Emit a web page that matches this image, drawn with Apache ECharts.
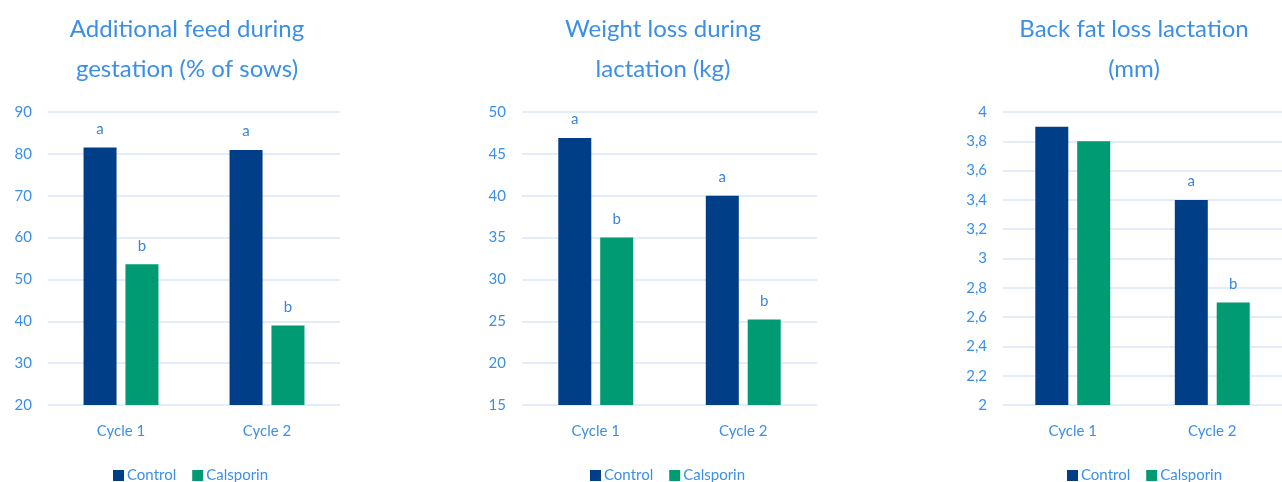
<!DOCTYPE html>
<html>
<head>
<meta charset="utf-8">
<script src="https://cdn.jsdelivr.net/npm/echarts@6/dist/echarts.min.js"></script>
<style>
html, body { margin: 0; padding: 0; background: #fff; }
#chart { width: 1282px; height: 482px; }
</style>
</head>
<body>
<div id="chart"></div>
<script>
var myChart = echarts.init(document.getElementById('chart'));

var categories = ['Cycle 1', 'Cycle 2'];
var seriesNames = ['Control', 'Calsporin'];

var titles = ['Additional feed during\ngestation (% of sows)', 'Weight loss during\nlactation (kg)', 'Back fat loss lactation\n(mm)'];

// feed during gestation
var feedControl = [81.5, 80.9];
var feedCalsporin = [53.6, 39];
var feedLettersControl = ['a', 'a'];
var feedLettersCalsporin = ['b', 'b'];

// weight loss
var weightControl = [46.9, 40];
var weightCalsporin = [35, 25.2];
var weightLettersControl = ['a', 'a'];
var weightLettersCalsporin = ['b', 'b'];

// back fat
var fatControl = [3.9, 3.4];
var fatCalsporin = [3.8, 2.7];
var fatLettersControl = ['', 'a'];
var fatLettersCalsporin = ['', 'b'];

var axisMin = [20, 15, 2];
var axisMax = [90, 50, 4];
var axisStep = [10, 5, 0.2];

var NAVY = '#003f87';
var GREEN = '#009b72';
var BLUE = '#3b8fe8';
var FONT = 'Lato';

var grids = [
    { left: 48, width: 292, top: 112, height: 293 },
    { left: 522, width: 295, top: 112, height: 293 },
    { left: 1003, width: 289, top: 112, height: 293 }
];
var titleCenters = [182, 658, 1129];
var legendLefts = [108, 585, 1062];

var data = [
    [feedControl, feedCalsporin, feedLettersControl, feedLettersCalsporin],
    [weightControl, weightCalsporin, weightLettersControl, weightLettersCalsporin],
    [fatControl, fatCalsporin, fatLettersControl, fatLettersCalsporin]
];

function barLabel(letters) {
    return {
        show: true,
        position: 'top',
        distance: 11,
        color: '#3a86dc',
        fontFamily: FONT,
        fontSize: 15,
        formatter: function(p) { return letters[p.dataIndex]; }
    };
}

var option = {
    animation: false,
    backgroundColor: '#fff',
    title: [],
    legend: [],
    grid: [],
    xAxis: [],
    yAxis: [],
    series: []
};

for (var i = 0; i < 3; i++) {
    option.title.push({
        text: titles[i],
        left: titleCenters[i],
        top: 4,
        textAlign: 'center',
        textStyle: { color: BLUE, fontFamily: FONT, fontSize: 24, fontWeight: 'normal', lineHeight: 40 }
    });
    option.grid.push(grids[i]);
    option.xAxis.push({
        type: 'category',
        gridIndex: i,
        data: categories,
        axisLine: { show: false },
        axisTick: { show: false },
        axisLabel: { color: BLUE, fontFamily: FONT, fontSize: 15, margin: 19 }
    });
    option.yAxis.push({
        type: 'value',
        gridIndex: i,
        min: axisMin[i],
        max: axisMax[i],
        interval: axisStep[i],
        axisLine: { show: false },
        axisTick: { show: false },
        splitLine: { lineStyle: { color: '#d8e7f8', width: 1.5 } },
        axisLabel: {
            color: BLUE, fontFamily: FONT, fontSize: 15, margin: 16,
            formatter: function(v) { return String(Math.round(v * 10) / 10).replace('.', ','); }
        }
    });
    option.legend.push({
        data: seriesNames,
        left: legendLefts[i],
        top: 463,
        icon: 'rect',
        itemWidth: 11,
        itemHeight: 11,
        itemGap: 16,
        itemStyle: { borderWidth: 0 },
        textStyle: { color: BLUE, fontFamily: FONT, fontSize: 15, padding: [0, 0, 0, -2] }
    });
    option.series.push({
        name: 'Control',
        type: 'bar',
        xAxisIndex: i,
        yAxisIndex: i,
        data: data[i][0],
        barWidth: 33,
        barGap: '27%',
        itemStyle: { color: NAVY },
        label: barLabel(data[i][2])
    });
    option.series.push({
        name: 'Calsporin',
        type: 'bar',
        xAxisIndex: i,
        yAxisIndex: i,
        data: data[i][1],
        barWidth: 33,
        barGap: '27%',
        itemStyle: { color: GREEN },
        label: barLabel(data[i][3])
    });
}

myChart.setOption(option);
</script>
</body>
</html>
